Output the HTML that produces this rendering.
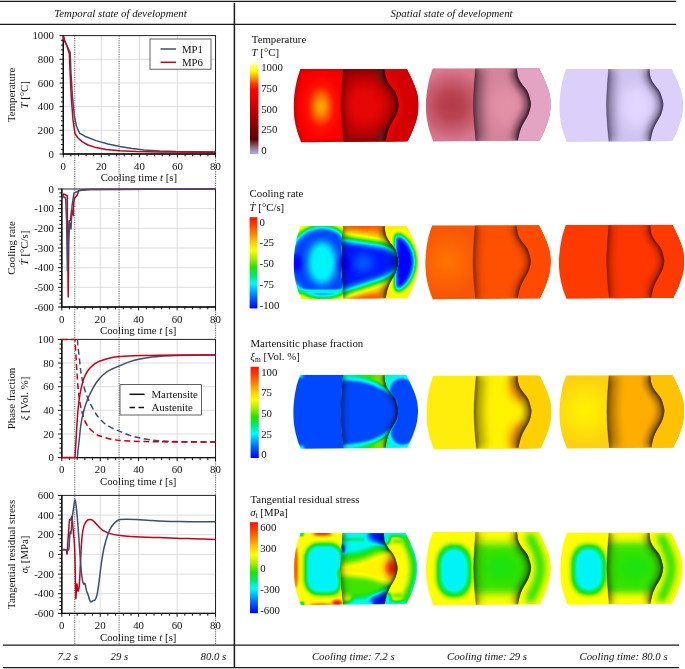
<!DOCTYPE html>
<html lang="en"><head><meta charset="utf-8"><title>Temporal and spatial state of development</title>
<style>html,body{margin:0;padding:0;background:#fff}svg{display:block}text{font-family:"Liberation Serif",serif;font-size:10.8px;fill:#111}</style>
</head><body>
<svg width="685" height="669" viewBox="0 0 685 669">
<rect width="685" height="669" fill="#fff"/>
<path d="M74.8 35.6V645M119.1 35.6V645M215.6 35.6V645" stroke="#3a3a3a" stroke-width="0.9" stroke-dasharray="1.1 1.2" fill="none"/>
<g>
<path d="M101.3 35.6V154M139.4 35.6V154M177.4 35.6V154M63.3 59.3H215.5M63.3 83H215.5M63.3 106.6H215.5M63.3 130.3H215.5" stroke="#d9d9d9" stroke-width="0.9" fill="none"/>
<rect x="63.3" y="35.6" width="152.2" height="118.4" fill="none" stroke="#222" stroke-width="1"/>
<path d="M63.3 35.3V154H216" fill="none" stroke="#111" stroke-width="1.4"/>
<path d="M59.5 35.6H63.3M60.9 40.3H63.3M60.9 45.1H63.3M60.9 49.8H63.3M60.9 54.5H63.3M59.5 59.3H63.3M60.9 64H63.3M60.9 68.8H63.3M60.9 73.5H63.3M60.9 78.2H63.3M59.5 83H63.3M60.9 87.7H63.3M60.9 92.4H63.3M60.9 97.2H63.3M60.9 101.9H63.3M59.5 106.6H63.3M60.9 111.4H63.3M60.9 116.1H63.3M60.9 120.8H63.3M60.9 125.6H63.3M59.5 130.3H63.3M60.9 135.1H63.3M60.9 139.8H63.3M60.9 144.5H63.3M60.9 149.3H63.3M59.5 154H63.3M63.3 154V157.4M70.9 154V156.4M78.5 154V156.4M86.1 154V156.4M93.7 154V156.4M101.3 154V157.4M109 154V156.4M116.6 154V156.4M124.2 154V156.4M131.8 154V156.4M139.4 154V157.4M147 154V156.4M154.6 154V156.4M162.2 154V156.4M169.8 154V156.4M177.4 154V157.4M185.1 154V156.4M192.7 154V156.4M200.3 154V156.4M207.9 154V156.4M215.5 154V157.4" stroke="#111" stroke-width="1" fill="none"/>
<g fill="none" stroke-width="1.5" stroke-linejoin="round">
<path d="M63.4 36.8L65 42L68 48L70.2 52.6L70.8 70L72.4 96L74.4 116L76.4 126L79.6 133.2L86 136.8L96 140.6L108 144L120 146.6L132 148.6L144 150L160 151L176 151.6L215.4 152" stroke="#3b4f6e"/>
<path d="M63.4 35.6L64.4 40L67 46L69.4 54L70 70L71.2 96L73 120L75 133.6L78 138L82 141.6L88 145L96 147.6L106 149.4L120 150.8L136 151.5L160 152L215.4 152.2" stroke="#c4001a"/>
</g>
<g text-anchor="end">
<text x="54" y="39.2">1000</text>
<text x="54" y="62.9">800</text>
<text x="54" y="86.6">600</text>
<text x="54" y="110.2">400</text>
<text x="54" y="133.9">200</text>
<text x="54" y="157.6">0</text>
</g>
<g text-anchor="middle">
<text x="63.3" y="169.6">0</text>
<text x="101.3" y="169.6">20</text>
<text x="139.4" y="169.6">40</text>
<text x="177.4" y="169.6">60</text>
<text x="215.5" y="169.6">80</text>
<text x="138.9" y="181.3">Cooling time <tspan font-style="italic">t</tspan> [s]</text>
</g>
<text transform="translate(15 94.8) rotate(-90)" text-anchor="middle">Temperature</text>
<text transform="translate(28 94.8) rotate(-90)" text-anchor="middle"><tspan font-style="italic">T</tspan> [°C]</text>
<rect x="150" y="39" width="61" height="30.2" fill="#fff" stroke="#3a3a3a" stroke-width="0.8"/><path d="M160.5 49H176" stroke="#3b4f6e" stroke-width="1.5"/><path d="M160.5 62.3H176" stroke="#c4001a" stroke-width="1.5"/><text x="182" y="52.6">MP1</text><text x="182" y="66">MP6</text>
</g>
<g>
<path d="M100.2 189V307M138.6 189V307M177.1 189V307M61.8 208.7H215.5M61.8 228.3H215.5M61.8 248H215.5M61.8 267.7H215.5M61.8 287.3H215.5" stroke="#d9d9d9" stroke-width="0.9" fill="none"/>
<rect x="61.8" y="189" width="153.7" height="118" fill="none" stroke="#222" stroke-width="1"/>
<path d="M61.8 188.7V307H216" fill="none" stroke="#111" stroke-width="1.4"/>
<path d="M58 189H61.8M59.4 192.9H61.8M59.4 196.9H61.8M59.4 200.8H61.8M59.4 204.7H61.8M58 208.7H61.8M59.4 212.6H61.8M59.4 216.5H61.8M59.4 220.5H61.8M59.4 224.4H61.8M58 228.3H61.8M59.4 232.3H61.8M59.4 236.2H61.8M59.4 240.1H61.8M59.4 244.1H61.8M58 248H61.8M59.4 251.9H61.8M59.4 255.9H61.8M59.4 259.8H61.8M59.4 263.7H61.8M58 267.7H61.8M59.4 271.6H61.8M59.4 275.5H61.8M59.4 279.5H61.8M59.4 283.4H61.8M58 287.3H61.8M59.4 291.3H61.8M59.4 295.2H61.8M59.4 299.1H61.8M59.4 303.1H61.8M58 307H61.8M61.8 307V310.4M69.5 307V309.4M77.2 307V309.4M84.9 307V309.4M92.5 307V309.4M100.2 307V310.4M107.9 307V309.4M115.6 307V309.4M123.3 307V309.4M131 307V309.4M138.6 307V310.4M146.3 307V309.4M154 307V309.4M161.7 307V309.4M169.4 307V309.4M177.1 307V310.4M184.8 307V309.4M192.4 307V309.4M200.1 307V309.4M207.8 307V309.4M215.5 307V310.4" stroke="#111" stroke-width="1" fill="none"/>
<g fill="none" stroke-width="1.5" stroke-linejoin="round">
<path d="M61.6 199L63.6 194L67.2 195.6L67.6 240L68.2 297L68.8 240L69.2 221L70.4 220L71.6 210L73.2 215.6L73.6 204L74.4 198.4L77.2 195L78.8 190.4L86 189.4L215.4 189.1" stroke="#c4001a"/>
<path d="M61.6 200L63.2 196L65.6 198.4L66.6 220L67.4 270.4L68.4 240L69.6 223L71 229L72 206L74 193L80 190.4L90 189.4L215.4 189.1" stroke="#3b4f6e"/>
</g>
<g text-anchor="end">
<text x="54" y="192.6">0</text>
<text x="54" y="212.3">-100</text>
<text x="54" y="231.9">-200</text>
<text x="54" y="251.6">-300</text>
<text x="54" y="271.3">-400</text>
<text x="54" y="290.9">-500</text>
<text x="54" y="310.6">-600</text>
</g>
<g text-anchor="middle">
<text x="61.8" y="322.6">0</text>
<text x="100.2" y="322.6">20</text>
<text x="138.6" y="322.6">40</text>
<text x="177.1" y="322.6">60</text>
<text x="215.5" y="322.6">80</text>
<text x="138.2" y="334.3">Cooling time <tspan font-style="italic">t</tspan> [s]</text>
</g>
<text transform="translate(15 248) rotate(-90)" text-anchor="middle">Cooling rate</text>
<text transform="translate(28 248) rotate(-90)" text-anchor="middle"><tspan font-style="italic">Ṫ</tspan> [°C/s]</text>

</g>
<g>
<path d="M100.2 339.4V457.6M138.6 339.4V457.6M177.1 339.4V457.6M61.8 363H215.5M61.8 386.7H215.5M61.8 410.3H215.5M61.8 434H215.5" stroke="#d9d9d9" stroke-width="0.9" fill="none"/>
<rect x="61.8" y="339.4" width="153.7" height="118.2" fill="none" stroke="#222" stroke-width="1"/>
<path d="M61.8 339.1V457.6H216" fill="none" stroke="#111" stroke-width="1.4"/>
<path d="M58 339.4H61.8M59.4 344.1H61.8M59.4 348.9H61.8M59.4 353.6H61.8M59.4 358.3H61.8M58 363H61.8M59.4 367.8H61.8M59.4 372.5H61.8M59.4 377.2H61.8M59.4 382H61.8M58 386.7H61.8M59.4 391.4H61.8M59.4 396.1H61.8M59.4 400.9H61.8M59.4 405.6H61.8M58 410.3H61.8M59.4 415H61.8M59.4 419.8H61.8M59.4 424.5H61.8M59.4 429.2H61.8M58 434H61.8M59.4 438.7H61.8M59.4 443.4H61.8M59.4 448.1H61.8M59.4 452.9H61.8M58 457.6H61.8M61.8 457.6V461M69.5 457.6V460M77.2 457.6V460M84.9 457.6V460M92.5 457.6V460M100.2 457.6V461M107.9 457.6V460M115.6 457.6V460M123.3 457.6V460M131 457.6V460M138.6 457.6V461M146.3 457.6V460M154 457.6V460M161.7 457.6V460M169.4 457.6V460M177.1 457.6V461M184.8 457.6V460M192.4 457.6V460M200.1 457.6V460M207.8 457.6V460M215.5 457.6V461" stroke="#111" stroke-width="1" fill="none"/>
<g fill="none" stroke-width="1.5" stroke-linejoin="round">
<path d="M77.4 339.4C77.5 340.7 77.7 344.4 78 347C78.3 349.6 78.5 350.7 79 355C79.5 359.3 80.2 367.7 81 373C81.8 378.3 83 383.2 84 387C85 390.8 86 393.3 87 396C88 398.7 88.5 400 90 403C91.5 406 93.7 410.7 96 414C98.3 417.3 101.3 420.7 104 423C106.7 425.3 109.3 426.6 112 428C114.7 429.4 117 430.2 120 431.4C123 432.6 126.7 434.3 130 435.4C133.3 436.5 136.3 437.2 140 438C143.7 438.8 148 439.5 152 440C156 440.5 160 440.7 164 441C168 441.3 171.3 441.5 176 441.6C180.7 441.7 185.4 441.8 192 441.8C198.6 441.9 211.5 441.9 215.4 441.9" stroke="#3b4f6e" stroke-dasharray="6 3.5"/>
<path d="M61.6 339.5L74.9 339.4C75 340.7 75.2 343.1 75.4 347C75.7 350.9 76 356.3 76.4 363C76.8 369.7 77.4 380.3 78 387C78.6 393.7 79.3 398.8 80 403C80.7 407.2 81.3 409.3 82 412C82.7 414.7 83.2 416.8 84 419C84.8 421.2 86 423.3 87 425C88 426.7 88.7 427.6 90 429C91.3 430.4 93.3 432.2 95 433.4C96.7 434.6 97.5 435.1 100 436C102.5 436.9 106.7 438.3 110 439C113.3 439.7 115 440 120 440.4C125 440.8 133.3 441.2 140 441.4C146.7 441.6 151.3 441.7 160 441.8C168.7 441.9 182.8 442 192 442C201.2 442 211.5 442 215.4 442" stroke="#c4001a" stroke-dasharray="6 3.5"/>
<path d="M77.4 457.6C77.5 456.3 77.7 452.6 78 450C78.3 447.4 78.5 446.3 79 442C79.5 437.7 80.2 429.3 81 424C81.8 418.7 83 413.8 84 410C85 406.2 86 403.7 87 401C88 398.3 88.5 397 90 394C91.5 391 93.7 386.3 96 383C98.3 379.7 101.3 376.3 104 374C106.7 371.7 109.3 370.4 112 369C114.7 367.6 117 366.8 120 365.6C123 364.4 126.7 362.7 130 361.6C133.3 360.5 136.3 359.8 140 359C143.7 358.2 148 357.5 152 357C156 356.5 160 356.3 164 356C168 355.7 171.3 355.5 176 355.4C180.7 355.3 185.4 355.2 192 355.2C198.6 355.1 211.5 355.1 215.4 355.1" stroke="#3b4f6e"/>
<path d="M61.6 457.6L74.9 457.6C75 456.3 75.2 453.9 75.4 450C75.7 446.1 76 440.7 76.4 434C76.8 427.3 77.4 416.7 78 410C78.6 403.3 79.3 398.2 80 394C80.7 389.8 81.3 387.7 82 385C82.7 382.3 83.2 380.2 84 378C84.8 375.8 86 373.7 87 372C88 370.3 88.7 369.4 90 368C91.3 366.6 93.3 364.8 95 363.6C96.7 362.4 97.5 361.9 100 361C102.5 360.1 106.7 358.7 110 358C113.3 357.3 115 357 120 356.6C125 356.2 133.3 355.8 140 355.6C146.7 355.4 151.3 355.3 160 355.2C168.7 355.1 182.8 355 192 355C201.2 355 211.5 355 215.4 355" stroke="#c4001a"/>
</g>
<g text-anchor="end">
<text x="54" y="343">100</text>
<text x="54" y="366.6">80</text>
<text x="54" y="390.3">60</text>
<text x="54" y="413.9">40</text>
<text x="54" y="437.6">20</text>
<text x="54" y="461.2">0</text>
</g>
<g text-anchor="middle">
<text x="61.8" y="473.2">0</text>
<text x="100.2" y="473.2">20</text>
<text x="138.6" y="473.2">40</text>
<text x="177.1" y="473.2">60</text>
<text x="215.5" y="473.2">80</text>
<text x="138.2" y="484.9">Cooling time <tspan font-style="italic">t</tspan> [s]</text>
</g>
<text transform="translate(15 398.5) rotate(-90)" text-anchor="middle">Phase fraction</text>
<text transform="translate(28 398.5) rotate(-90)" text-anchor="middle"><tspan font-style="italic">ξ</tspan> [Vol. %]</text>
<rect x="120" y="384.6" width="81.5" height="30.4" fill="#fff" stroke="#3a3a3a" stroke-width="0.8"/><path d="M129.5 394.3H144.5" stroke="#111" stroke-width="1.5"/><path d="M129.5 407.6H144.5" stroke="#111" stroke-width="1.5" stroke-dasharray="5.5 3.5"/><text x="151.5" y="398">Martensite</text><text x="151.5" y="411.3">Austenite</text>
</g>
<g>
<path d="M100.2 495.4V613.4M138.6 495.4V613.4M177.1 495.4V613.4M61.8 515.1H215.5M61.8 534.7H215.5M61.8 554.4H215.5M61.8 574.1H215.5M61.8 593.7H215.5" stroke="#d9d9d9" stroke-width="0.9" fill="none"/>
<rect x="61.8" y="495.4" width="153.7" height="118" fill="none" stroke="#222" stroke-width="1"/>
<path d="M61.8 495.1V613.4H216" fill="none" stroke="#111" stroke-width="1.4"/>
<path d="M58 495.4H61.8M59.4 499.3H61.8M59.4 503.3H61.8M59.4 507.2H61.8M59.4 511.1H61.8M58 515.1H61.8M59.4 519H61.8M59.4 522.9H61.8M59.4 526.9H61.8M59.4 530.8H61.8M58 534.7H61.8M59.4 538.7H61.8M59.4 542.6H61.8M59.4 546.5H61.8M59.4 550.5H61.8M58 554.4H61.8M59.4 558.3H61.8M59.4 562.3H61.8M59.4 566.2H61.8M59.4 570.1H61.8M58 574.1H61.8M59.4 578H61.8M59.4 581.9H61.8M59.4 585.9H61.8M59.4 589.8H61.8M58 593.7H61.8M59.4 597.7H61.8M59.4 601.6H61.8M59.4 605.5H61.8M59.4 609.5H61.8M58 613.4H61.8M61.8 613.4V616.8M69.5 613.4V615.8M77.2 613.4V615.8M84.9 613.4V615.8M92.5 613.4V615.8M100.2 613.4V616.8M107.9 613.4V615.8M115.6 613.4V615.8M123.3 613.4V615.8M131 613.4V615.8M138.6 613.4V616.8M146.3 613.4V615.8M154 613.4V615.8M161.7 613.4V615.8M169.4 613.4V615.8M177.1 613.4V616.8M184.8 613.4V615.8M192.4 613.4V615.8M200.1 613.4V615.8M207.8 613.4V615.8M215.5 613.4V616.8" stroke="#111" stroke-width="1" fill="none"/>
<g fill="none" stroke-width="1.5" stroke-linejoin="round">
<path d="M61.6 549.6C62.2 549.6 64.2 549.3 65 549.4C65.8 549.5 66 549.7 66.4 550.4C66.8 551.1 66.9 555.3 67.2 553.6C67.5 551.9 67.6 545.4 68 540C68.4 534.6 69 524.3 69.4 521C69.8 517.7 70.2 520.7 70.6 520C71 519.3 71.6 515.3 72 516.6C72.4 517.9 72.6 523.4 73 528C73.4 532.6 74 537 74.4 544C74.8 551 75 560.9 75.2 570C75.4 579.1 75.5 596.1 75.8 598.4C76.1 600.7 76.4 585.1 76.8 584C77.2 582.9 77.6 591.6 78 591.6C78.4 591.6 79 589.3 79.4 584C79.8 578.7 80.2 567.8 80.6 560C81 552.2 81.4 542.7 82 537C82.6 531.3 83.2 528.3 84 525.6C84.8 522.9 86 521.6 87 520.6C88 519.6 89 519.6 90 519.6C91 519.6 92 519.9 93 520.6C94 521.3 94.8 522.4 96 523.6C97.2 524.8 98.7 526.8 100 528C101.3 529.2 102.3 530.1 104 531C105.7 531.9 107.3 532.8 110 533.6C112.7 534.4 116.7 535.1 120 535.6C123.3 536.1 126.7 536.4 130 536.6C133.3 536.8 135 536.8 140 537C145 537.2 153.3 537.4 160 537.6C166.7 537.8 173.3 538.2 180 538.4C186.7 538.6 194.1 538.8 200 539C205.9 539.2 212.8 539.3 215.4 539.4" stroke="#c4001a"/>
<path d="M61.6 550C62.3 550 64.9 549.7 66 549.8C67.1 549.9 67.5 550.7 68 550.4C68.5 550.1 68.7 551 69 548C69.3 545 69.7 534.9 70 532.4C70.3 529.9 70.7 535.3 71 533.2C71.3 531.1 71.6 524.2 72 520C72.4 515.8 73.1 511.4 73.6 508C74.1 504.6 74.5 499.4 75 499.4C75.5 499.4 75.9 503.6 76.4 508C76.9 512.4 77.5 519.7 78 526C78.5 532.3 78.9 539 79.4 546C79.9 553 80.5 562.3 81 568C81.5 573.7 82 577.3 82.4 580C82.8 582.7 83.2 583.4 83.6 584C84 584.6 84.5 582.5 85 583.6C85.5 584.7 85.9 588.6 86.4 590.4C86.9 592.2 87.5 592.8 88 594.4C88.5 596 89.1 598.7 89.6 600C90.1 601.3 90.4 601.9 91 602C91.6 602.1 92.3 600.9 93 600.6C93.7 600.3 94.3 600.9 95 600C95.7 599.1 96.3 598 97 595C97.7 592 98.3 586.8 99 582C99.7 577.2 100.2 571.7 101 566C101.8 560.3 102.8 553.3 104 548C105.2 542.7 106.7 537.7 108 534C109.3 530.3 110.7 528.1 112 526C113.3 523.9 114.7 522.7 116 521.6C117.3 520.5 118.3 520 120 519.6C121.7 519.2 123.3 519.2 126 519.2C128.7 519.2 132 519.2 136 519.4C140 519.6 145.3 520.1 150 520.4C154.7 520.7 159 521 164 521.2C169 521.4 174 521.5 180 521.6C186 521.7 194.1 521.8 200 521.8C205.9 521.8 212.8 521.8 215.4 521.8" stroke="#3b4f6e"/>
</g>
<g text-anchor="end">
<text x="54" y="499">600</text>
<text x="54" y="518.7">400</text>
<text x="54" y="538.3">200</text>
<text x="54" y="558">0</text>
<text x="54" y="577.7">-200</text>
<text x="54" y="597.3">-400</text>
<text x="54" y="617">-600</text>
</g>
<g text-anchor="middle">
<text x="61.8" y="629">0</text>
<text x="100.2" y="629">20</text>
<text x="138.6" y="629">40</text>
<text x="177.1" y="629">60</text>
<text x="215.5" y="629">80</text>
<text x="138.2" y="640.7">Cooling time <tspan font-style="italic">t</tspan> [s]</text>
</g>
<text transform="translate(15 554.4) rotate(-90)" text-anchor="middle">Tangential residual stress</text>
<text transform="translate(28 554.4) rotate(-90)" text-anchor="middle"><tspan font-style="italic">σ</tspan><tspan font-size="7.5" dy="2">t</tspan><tspan dy="-2"> [MPa]</tspan></text>

</g>
<g stroke="#1a1a1a" stroke-width="1.2" fill="none">
<path d="M0 1.4H676"/><path d="M0 24.3H676"/>
<path d="M3 645.2H679"/><path d="M3 667.6H679"/>
<path d="M234.4 3V668" stroke-width="1.5"/>
</g>
<g font-style="italic">
<text x="54.3" y="17.2">Temporal state of development</text>
<text x="390.5" y="17.2">Spatial state of development</text>
<text x="57.5" y="660.3">7.2 s</text>
<text x="110.5" y="660.3">29 s</text>
<text x="200.5" y="660.3">80.0 s</text>
<text x="311.9" y="660.3">Cooling time: 7.2 s</text>
<text x="447" y="660.3">Cooling time: 29 s</text>
<text x="579.5" y="660.3">Cooling time: 80.0 s</text>
</g>
<defs>
<filter id="jet" filterUnits="userSpaceOnUse" x="-10" y="-10" width="150" height="95" color-interpolation-filters="sRGB"><feComponentTransfer><feFuncR type="table" tableValues="0.000 0.000 0.000 0.000 0.000 0.000 0.000 0.000 0.000 0.000 0.000 0.000 0.000 0.000 0.000 0.000 0.000 0.000 0.000 0.031 0.063 0.094 0.125 0.194 0.299 0.404 0.509 0.614 0.704 0.778 0.852 0.926 1.000 1.000 1.000 1.000 1.000 1.000 1.000 1.000 1.000 1.000 1.000 1.000 1.000 1.000 1.000 1.000 1.000 1.000 1.000"/><feFuncG type="table" tableValues="0.000 0.066 0.133 0.199 0.265 0.332 0.398 0.471 0.551 0.630 0.710 0.789 0.869 0.948 0.980 0.962 0.945 0.927 0.910 0.905 0.899 0.894 0.889 0.892 0.903 0.914 0.925 0.936 0.948 0.961 0.974 0.987 1.000 0.952 0.904 0.856 0.808 0.754 0.693 0.632 0.571 0.510 0.455 0.400 0.345 0.290 0.235 0.192 0.149 0.106 0.063"/><feFuncB type="table" tableValues="1.000 1.000 1.000 1.000 1.000 1.000 1.000 0.999 0.997 0.996 0.994 0.992 0.991 0.989 0.931 0.816 0.701 0.586 0.471 0.366 0.261 0.157 0.052 0.000 0.000 0.000 0.000 0.000 0.000 0.000 0.000 0.000 0.000 0.000 0.000 0.000 0.000 0.000 0.000 0.000 0.000 0.000 0.000 0.000 0.000 0.000 0.000 0.000 0.000 0.000 0.000"/></feComponentTransfer></filter>
<filter id="b0_8" filterUnits="userSpaceOnUse" x="-40" y="-40" width="210" height="155" color-interpolation-filters="sRGB"><feGaussianBlur stdDeviation="0.8"/></filter>
<filter id="b1_2" filterUnits="userSpaceOnUse" x="-40" y="-40" width="210" height="155" color-interpolation-filters="sRGB"><feGaussianBlur stdDeviation="1.2"/></filter>
<filter id="b1_5" filterUnits="userSpaceOnUse" x="-40" y="-40" width="210" height="155" color-interpolation-filters="sRGB"><feGaussianBlur stdDeviation="1.5"/></filter>
<filter id="b2" filterUnits="userSpaceOnUse" x="-40" y="-40" width="210" height="155" color-interpolation-filters="sRGB"><feGaussianBlur stdDeviation="2"/></filter>
<filter id="b2_5" filterUnits="userSpaceOnUse" x="-40" y="-40" width="210" height="155" color-interpolation-filters="sRGB"><feGaussianBlur stdDeviation="2.5"/></filter>
<filter id="b3" filterUnits="userSpaceOnUse" x="-40" y="-40" width="210" height="155" color-interpolation-filters="sRGB"><feGaussianBlur stdDeviation="3"/></filter>
<filter id="b3_5" filterUnits="userSpaceOnUse" x="-40" y="-40" width="210" height="155" color-interpolation-filters="sRGB"><feGaussianBlur stdDeviation="3.5"/></filter>
<filter id="b4" filterUnits="userSpaceOnUse" x="-40" y="-40" width="210" height="155" color-interpolation-filters="sRGB"><feGaussianBlur stdDeviation="4"/></filter>
<filter id="b5" filterUnits="userSpaceOnUse" x="-40" y="-40" width="210" height="155" color-interpolation-filters="sRGB"><feGaussianBlur stdDeviation="5"/></filter>
<filter id="b6" filterUnits="userSpaceOnUse" x="-40" y="-40" width="210" height="155" color-interpolation-filters="sRGB"><feGaussianBlur stdDeviation="6"/></filter>
<clipPath id="cO"><path d="M6.9 0L113.2 0C114 1.8 116.7 6.8 118.3 10.6C119.9 14.4 121.9 18.8 123 22.8C124.1 26.8 124.7 30.5 124.8 34.8C124.9 39 124.4 43.8 123.4 48.3C122.4 52.8 120.6 57.5 119 61.5C117.4 65.5 114.8 70.4 114 72.2L7.6 73.2C6.9 71.4 4.8 66.3 3.7 62.5C2.6 58.7 1.6 54.8 1 50.5C0.4 46.2 0 41.2 0 37C-0 32.8 0.4 29.5 0.9 25.3C1.4 21.1 2.2 16.1 3.2 11.9C4.2 7.7 6.3 2 6.9 0Z"/></clipPath>
<clipPath id="cR1"><path d="M49.8 0C49.6 3 48.8 11.9 48.4 18C48 24.1 47.6 30.1 47.6 36.3C47.6 42.5 48.1 48.9 48.5 55C48.9 61.1 49.9 69.8 50.2 72.8L140 80L140 -8Z"/></clipPath>
<clipPath id="cR2"><path d="M91.1 0C91.3 1.3 91.4 5.6 92.1 8C92.8 10.4 93.8 12.2 95.4 14.7C97 17.2 100 19.9 101.5 22.8C103 25.7 104 29.7 104.6 32.2C105.2 34.7 105.2 35.4 104.9 37.6C104.6 39.8 104 42.7 102.8 45.6C101.6 48.5 99 52.2 97.5 55.1C96 58 95 60.2 94.1 63.1C93.2 66 92.4 70.9 92.1 72.4L140 80L140 -8Z"/></clipPath>
<clipPath id="cM"><path d="M49.8 0C49.6 3 48.8 11.9 48.4 18C48 24.1 47.6 30.1 47.6 36.3C47.6 42.5 48.1 48.9 48.5 55C48.9 61.1 49.9 69.8 50.2 72.8L92.1 72.4C92.4 70.9 93.2 66 94.1 63.1C95 60.2 96 58 97.5 55.1C99 52.2 101.6 48.5 102.8 45.6C104 42.7 104.6 39.8 104.9 37.6C105.2 35.4 105.2 34.7 104.6 32.2C104 29.7 103 25.7 101.5 22.8C100 19.9 97 17.2 95.4 14.7C93.8 12.2 92.8 10.4 92.1 8C91.4 5.6 91.3 1.3 91.1 0Z"/></clipPath>
<linearGradient id="gJ" x1="0" y1="0" x2="0" y2="1">
<stop offset="0.000" stop-color="rgb(255,16,0)"/>
<stop offset="0.080" stop-color="rgb(255,60,0)"/>
<stop offset="0.180" stop-color="rgb(255,130,0)"/>
<stop offset="0.270" stop-color="rgb(255,200,0)"/>
<stop offset="0.360" stop-color="rgb(255,255,0)"/>
<stop offset="0.450" stop-color="rgb(170,240,0)"/>
<stop offset="0.550" stop-color="rgb(36,226,0)"/>
<stop offset="0.640" stop-color="rgb(0,232,120)"/>
<stop offset="0.730" stop-color="rgb(0,252,252)"/>
<stop offset="0.870" stop-color="rgb(0,110,255)"/>
<stop offset="1.000" stop-color="rgb(0,0,255)"/>
</linearGradient>
<linearGradient id="gT" x1="0" y1="0" x2="0" y2="1"><stop offset="0" stop-color="#fffff4"/><stop offset="0.05" stop-color="#ffff70"/><stop offset="0.1" stop-color="#ffff00"/><stop offset="0.17" stop-color="#ffa000"/><stop offset="0.25" stop-color="#ff3000"/><stop offset="0.31" stop-color="#ff0000"/><stop offset="0.45" stop-color="#d80000"/><stop offset="0.6" stop-color="#a80000"/><stop offset="0.75" stop-color="#780000"/><stop offset="0.84" stop-color="#600000"/><stop offset="0.89" stop-color="#7a4048"/><stop offset="0.95" stop-color="#a088a0"/><stop offset="1" stop-color="#a0b4f4"/></linearGradient>
</defs>
<text x="251.8" y="42.5">Temperature</text>
<text x="251.6" y="56"><tspan font-style="italic">T</tspan> [°C]</text>
<text x="249.6" y="196.8">Cooling rate</text>
<text x="249.6" y="210.8"><tspan font-style="italic">Ṫ</tspan> [°C/s]</text>
<text x="250.5" y="347">Martensitic phase fraction</text>
<text x="250.3" y="360.4"><tspan font-style="italic">ξ</tspan><tspan font-size="7.5" dy="2">m</tspan><tspan dy="-2"> [Vol. %]</tspan></text>
<text x="250.5" y="502.5">Tangential residual stress</text>
<text x="250.2" y="516.3"><tspan font-style="italic">σ</tspan><tspan font-size="7.5" dy="2">t</tspan><tspan dy="-2"> [MPa]</tspan></text>
<rect x="250" y="61.6" width="8.5" height="92.6" fill="url(#gT)"/>
<text x="261.2" y="70.5">1000</text>
<text x="261.2" y="91.5">750</text>
<text x="261.2" y="112.5">500</text>
<text x="261.2" y="133.4">250</text>
<text x="261.2" y="154.4">0</text>
<rect x="249.6" y="217.2" width="7.8" height="91.2" fill="url(#gJ)"/>
<text x="259.6" y="225.5">0</text>
<text x="259.6" y="246.4">-25</text>
<text x="259.6" y="267.3">-50</text>
<text x="259.6" y="288.2">-75</text>
<text x="259.6" y="309.1">-100</text>
<rect x="250.6" y="366.8" width="8.2" height="91.2" fill="url(#gJ)"/>
<text x="261.2" y="375.6">100</text>
<text x="261.2" y="396.2">75</text>
<text x="261.2" y="416.9">50</text>
<text x="261.2" y="437.6">25</text>
<text x="261.2" y="458.2">0</text>
<rect x="250" y="522.2" width="7.9" height="91" fill="url(#gJ)"/>
<text x="260.2" y="530.9">600</text>
<text x="260.2" y="551.7">300</text>
<text x="260.2" y="572.4">0</text>
<text x="260.2" y="593.2">-300</text>
<text x="260.2" y="614">-600</text>
<g transform="translate(293.6 69) scale(1.0 1.0)"><g clip-path="url(#cO)">
<radialGradient id="t1a" gradientUnits="userSpaceOnUse" cx="27.4" cy="37.5" r="34" gradientTransform="translate(27.4 37.5) scale(1 1.55) translate(-27.4 -37.5)"><stop offset="0" stop-color="#ffa800"/><stop offset="0.12" stop-color="#ff9400"/><stop offset="0.27" stop-color="#ff4c00"/><stop offset="0.4" stop-color="#ff1200"/><stop offset="0.6" stop-color="#fd0000"/><stop offset="0.85" stop-color="#f00000"/><stop offset="1" stop-color="#e00000"/></radialGradient>
<rect x="-5" y="-5" width="140" height="85" fill="url(#t1a)"/>
<path d="M6.9 0C6.3 2 4.2 7.7 3.2 11.9C2.2 16.1 1.4 21.1 0.9 25.3C0.4 29.5 -0 32.8 0 37C0 41.2 0.4 46.2 1 50.5C1.6 54.8 2.6 58.7 3.7 62.5C4.8 66.3 6.9 71.4 7.6 73.2" fill="none" stroke="#b00000" stroke-opacity=".6" stroke-width="4" filter="url(#b2)"/>
<path d="M0 0H52M0 73H52" fill="none" stroke="#b00000" stroke-opacity=".5" stroke-width="3" filter="url(#b1_5)"/>
<g clip-path="url(#cR1)">
<rect x="-5" y="-5" width="140" height="85" fill="#b80000"/>
<ellipse cx="71" cy="36.5" rx="21" ry="22" fill="#e60606" filter="url(#b6)"/>
<rect x="45" y="-4" width="60" height="8" fill="#500000" fill-opacity=".5" filter="url(#b3)"/>
<rect x="45" y="69" width="60" height="8" fill="#500000" fill-opacity=".5" filter="url(#b3)"/>
<ellipse cx="91" cy="5" rx="7" ry="9" fill="#503030" fill-opacity=".65" filter="url(#b3)"/>
<ellipse cx="91" cy="68" rx="7" ry="9" fill="#503030" fill-opacity=".65" filter="url(#b3)"/>
</g>
<g clip-path="url(#cR2)">
<rect x="-5" y="-5" width="140" height="85" fill="#d20000"/>
<path d="M91.1 0C91.3 1.3 91.4 5.6 92.1 8C92.8 10.4 93.8 12.2 95.4 14.7C97 17.2 100 19.9 101.5 22.8C103 25.7 104 29.7 104.6 32.2C105.2 34.7 105.2 35.4 104.9 37.6C104.6 39.8 104 42.7 102.8 45.6C101.6 48.5 99 52.2 97.5 55.1C96 58 95 60.2 94.1 63.1C93.2 66 92.4 70.9 92.1 72.4" fill="none" stroke="#ea0404" stroke-width="9" filter="url(#b2)"/>
</g>
<g clip-path="url(#cM)">

<path d="M49.8 0C49.6 3 48.8 11.9 48.4 18C48 24.1 47.6 30.1 47.6 36.3C47.6 42.5 48.1 48.9 48.5 55C48.9 61.1 49.9 69.8 50.2 72.8" fill="none" stroke="#200000" stroke-opacity="0.28500000000000003" stroke-width="6" filter="url(#b4)"/>
<path d="M49.8 0C49.6 3 48.8 11.9 48.4 18C48 24.1 47.6 30.1 47.6 36.3C47.6 42.5 48.1 48.9 48.5 55C48.9 61.1 49.9 69.8 50.2 72.8" fill="none" stroke="#200000" stroke-opacity="0.26599999999999996" stroke-width="5" filter="url(#b1_5)"/>
<path d="M91.1 0C91.3 1.3 91.4 5.6 92.1 8C92.8 10.4 93.8 12.2 95.4 14.7C97 17.2 100 19.9 101.5 22.8C103 25.7 104 29.7 104.6 32.2C105.2 34.7 105.2 35.4 104.9 37.6C104.6 39.8 104 42.7 102.8 45.6C101.6 48.5 99 52.2 97.5 55.1C96 58 95 60.2 94.1 63.1C93.2 66 92.4 70.9 92.1 72.4" fill="none" stroke="#200000" stroke-opacity="0.5" stroke-width="8" filter="url(#b3)"/>
<path d="M91.1 0C91.3 1.3 91.4 5.6 92.1 8C92.8 10.4 93.8 12.2 95.4 14.7C97 17.2 100 19.9 101.5 22.8C103 25.7 104 29.7 104.6 32.2C105.2 34.7 105.2 35.4 104.9 37.6C104.6 39.8 104 42.7 102.8 45.6C101.6 48.5 99 52.2 97.5 55.1C96 58 95 60.2 94.1 63.1C93.2 66 92.4 70.9 92.1 72.4" fill="none" stroke="#200000" stroke-opacity="0.65" stroke-width="3.5" filter="url(#b1_2)"/>
</g>
<path d="M49.8 0C49.6 3 48.8 11.9 48.4 18C48 24.1 47.6 30.1 47.6 36.3C47.6 42.5 48.1 48.9 48.5 55C48.9 61.1 49.9 69.8 50.2 72.8" fill="none" stroke="#200000" stroke-opacity="0.30400000000000005" stroke-width="0.7"/>
</g></g>
<g transform="translate(425.8 68.3) scale(1.0 1.0)"><g clip-path="url(#cO)">
<radialGradient id="t2a" gradientUnits="userSpaceOnUse" cx="26" cy="37" r="36"><stop offset="0" stop-color="#b43a48"/><stop offset="0.35" stop-color="#ba4452"/><stop offset="0.7" stop-color="#ca5e72"/><stop offset="1" stop-color="#d8788e"/></radialGradient>
<rect x="-5" y="-5" width="140" height="85" fill="url(#t2a)"/>
<g clip-path="url(#cR1)">
<rect x="-5" y="-5" width="140" height="85" fill="#d4859c"/>
<ellipse cx="80" cy="38" rx="16" ry="20" fill="#e290a6" filter="url(#b6)"/>
</g>
<g clip-path="url(#cR2)"><rect x="-5" y="-5" width="140" height="85" fill="#e3a4c4"/></g>
<g clip-path="url(#cM)">

<path d="M49.8 0C49.6 3 48.8 11.9 48.4 18C48 24.1 47.6 30.1 47.6 36.3C47.6 42.5 48.1 48.9 48.5 55C48.9 61.1 49.9 69.8 50.2 72.8" fill="none" stroke="#2a1020" stroke-opacity="0.44999999999999996" stroke-width="18" filter="url(#b4)"/>
<path d="M49.8 0C49.6 3 48.8 11.9 48.4 18C48 24.1 47.6 30.1 47.6 36.3C47.6 42.5 48.1 48.9 48.5 55C48.9 61.1 49.9 69.8 50.2 72.8" fill="none" stroke="#2a1020" stroke-opacity="0.42" stroke-width="5" filter="url(#b1_5)"/>
<path d="M91.1 0C91.3 1.3 91.4 5.6 92.1 8C92.8 10.4 93.8 12.2 95.4 14.7C97 17.2 100 19.9 101.5 22.8C103 25.7 104 29.7 104.6 32.2C105.2 34.7 105.2 35.4 104.9 37.6C104.6 39.8 104 42.7 102.8 45.6C101.6 48.5 99 52.2 97.5 55.1C96 58 95 60.2 94.1 63.1C93.2 66 92.4 70.9 92.1 72.4" fill="none" stroke="#2a1020" stroke-opacity="0.62" stroke-width="12" filter="url(#b3)"/>
<path d="M91.1 0C91.3 1.3 91.4 5.6 92.1 8C92.8 10.4 93.8 12.2 95.4 14.7C97 17.2 100 19.9 101.5 22.8C103 25.7 104 29.7 104.6 32.2C105.2 34.7 105.2 35.4 104.9 37.6C104.6 39.8 104 42.7 102.8 45.6C101.6 48.5 99 52.2 97.5 55.1C96 58 95 60.2 94.1 63.1C93.2 66 92.4 70.9 92.1 72.4" fill="none" stroke="#2a1020" stroke-opacity="0.77" stroke-width="3.5" filter="url(#b1_2)"/>
</g>
<path d="M49.8 0C49.6 3 48.8 11.9 48.4 18C48 24.1 47.6 30.1 47.6 36.3C47.6 42.5 48.1 48.9 48.5 55C48.9 61.1 49.9 69.8 50.2 72.8" fill="none" stroke="#2a1020" stroke-opacity="0.48" stroke-width="0.7"/>
</g></g>
<g transform="translate(559.3 68.9) scale(0.99 1.0)"><g clip-path="url(#cO)">
<rect x="-5" y="-5" width="140" height="85" fill="#dcd0fb"/>
<g clip-path="url(#cR1)">
<rect x="-5" y="-5" width="140" height="85" fill="#cfc3f0"/>
<ellipse cx="78" cy="38" rx="16" ry="22" fill="#e2d6ff" filter="url(#b6)"/>
</g>
<g clip-path="url(#cR2)"><rect x="-5" y="-5" width="140" height="85" fill="#dcd0fb"/></g>
<g clip-path="url(#cM)">

<path d="M49.8 0C49.6 3 48.8 11.9 48.4 18C48 24.1 47.6 30.1 47.6 36.3C47.6 42.5 48.1 48.9 48.5 55C48.9 61.1 49.9 69.8 50.2 72.8" fill="none" stroke="#241838" stroke-opacity="0.36" stroke-width="16" filter="url(#b4)"/>
<path d="M49.8 0C49.6 3 48.8 11.9 48.4 18C48 24.1 47.6 30.1 47.6 36.3C47.6 42.5 48.1 48.9 48.5 55C48.9 61.1 49.9 69.8 50.2 72.8" fill="none" stroke="#241838" stroke-opacity="0.33599999999999997" stroke-width="5" filter="url(#b1_5)"/>
<path d="M91.1 0C91.3 1.3 91.4 5.6 92.1 8C92.8 10.4 93.8 12.2 95.4 14.7C97 17.2 100 19.9 101.5 22.8C103 25.7 104 29.7 104.6 32.2C105.2 34.7 105.2 35.4 104.9 37.6C104.6 39.8 104 42.7 102.8 45.6C101.6 48.5 99 52.2 97.5 55.1C96 58 95 60.2 94.1 63.1C93.2 66 92.4 70.9 92.1 72.4" fill="none" stroke="#241838" stroke-opacity="0.52" stroke-width="11" filter="url(#b3)"/>
<path d="M91.1 0C91.3 1.3 91.4 5.6 92.1 8C92.8 10.4 93.8 12.2 95.4 14.7C97 17.2 100 19.9 101.5 22.8C103 25.7 104 29.7 104.6 32.2C105.2 34.7 105.2 35.4 104.9 37.6C104.6 39.8 104 42.7 102.8 45.6C101.6 48.5 99 52.2 97.5 55.1C96 58 95 60.2 94.1 63.1C93.2 66 92.4 70.9 92.1 72.4" fill="none" stroke="#241838" stroke-opacity="0.67" stroke-width="3.5" filter="url(#b1_2)"/>
</g>
<path d="M49.8 0C49.6 3 48.8 11.9 48.4 18C48 24.1 47.6 30.1 47.6 36.3C47.6 42.5 48.1 48.9 48.5 55C48.9 61.1 49.9 69.8 50.2 72.8" fill="none" stroke="#241838" stroke-opacity="0.384" stroke-width="0.7"/>
</g></g>
<g transform="translate(293.6 226) scale(1.0 1.0)"><g clip-path="url(#cO)">
<g filter="url(#jet)">
<rect x="-5" y="-5" width="140" height="85" fill="#adadad"/>
<path d="M-5 31C-3 14 10 0.5 28 0C42 0 50 6 54 16V61C50 68 42 71.5 30 71.5C14 71.5 0 65 -5 48Z" fill="#141414" filter="url(#b3)"/>
<path d="M4 65.4H50" stroke="#5c5c5c" stroke-width="2.6" fill="none" filter="url(#b1_2)"/>
<ellipse cx="28.4" cy="36.7" rx="14.5" ry="22" fill="#454545" filter="url(#b4)"/>
<ellipse cx="28.4" cy="36.7" rx="9" ry="15" fill="#454545" filter="url(#b3)"/>
<ellipse cx="3" cy="37" rx="5" ry="9" fill="#000000" filter="url(#b2_5)"/>
<ellipse cx="49" cy="38" rx="3.5" ry="8" fill="#000000" filter="url(#b2_5)"/>
<g clip-path="url(#cR1)">
<rect x="-5" y="-5" width="140" height="85" fill="#c9c9c9"/>
<ellipse cx="70" cy="-1" rx="20" ry="5" fill="#e6e6e6" filter="url(#b3)"/><ellipse cx="72" cy="74" rx="18" ry="6" fill="#e6e6e6" filter="url(#b3)"/>
<path d="M40 7L88 14.5C100 17 114 29 114 35.5C114 42 100 53 90 57.5L40 74Z" fill="#666666" filter="url(#b4)"/>
<path d="M40 13.5L88 20.5C98 23 109 31 109 35.5C109 40 98 47.5 89 51.5L40 67.5Z" fill="#080808" filter="url(#b3)"/>
<ellipse cx="52" cy="38" rx="6" ry="7" fill="#000000" filter="url(#b3)"/>
<ellipse cx="70" cy="37" rx="10" ry="9" fill="#1c1c1c" filter="url(#b4)"/>
</g>
<g clip-path="url(#cR2)">
<rect x="-5" y="-5" width="140" height="85" fill="#a8a8a8"/>
<path d="M102 6.5C113 6.5 122.6 22 122.6 35.5C122.6 50 113 66.5 102 66.5Z" fill="#5c5c5c" filter="url(#b2)"/>
<path d="M102 10C111 10 120 23 120 35.5C120 49 111 63 102 63Z" fill="#000000" filter="url(#b2)"/>
</g>
</g>
<g clip-path="url(#cM)">

<path d="M49.8 0C49.6 3 48.8 11.9 48.4 18C48 24.1 47.6 30.1 47.6 36.3C47.6 42.5 48.1 48.9 48.5 55C48.9 61.1 49.9 69.8 50.2 72.8" fill="none" stroke="#000" stroke-opacity="0.30000000000000004" stroke-width="7" filter="url(#b4)"/>
<path d="M49.8 0C49.6 3 48.8 11.9 48.4 18C48 24.1 47.6 30.1 47.6 36.3C47.6 42.5 48.1 48.9 48.5 55C48.9 61.1 49.9 69.8 50.2 72.8" fill="none" stroke="#000" stroke-opacity="0.27999999999999997" stroke-width="5" filter="url(#b1_5)"/>
<path d="M91.1 0C91.3 1.3 91.4 5.6 92.1 8C92.8 10.4 93.8 12.2 95.4 14.7C97 17.2 100 19.9 101.5 22.8C103 25.7 104 29.7 104.6 32.2C105.2 34.7 105.2 35.4 104.9 37.6C104.6 39.8 104 42.7 102.8 45.6C101.6 48.5 99 52.2 97.5 55.1C96 58 95 60.2 94.1 63.1C93.2 66 92.4 70.9 92.1 72.4" fill="none" stroke="#000" stroke-opacity="0.45" stroke-width="10" filter="url(#b3)"/>
<path d="M91.1 0C91.3 1.3 91.4 5.6 92.1 8C92.8 10.4 93.8 12.2 95.4 14.7C97 17.2 100 19.9 101.5 22.8C103 25.7 104 29.7 104.6 32.2C105.2 34.7 105.2 35.4 104.9 37.6C104.6 39.8 104 42.7 102.8 45.6C101.6 48.5 99 52.2 97.5 55.1C96 58 95 60.2 94.1 63.1C93.2 66 92.4 70.9 92.1 72.4" fill="none" stroke="#000" stroke-opacity="0.6" stroke-width="3.5" filter="url(#b1_2)"/>
</g>
<path d="M49.8 0C49.6 3 48.8 11.9 48.4 18C48 24.1 47.6 30.1 47.6 36.3C47.6 42.5 48.1 48.9 48.5 55C48.9 61.1 49.9 69.8 50.2 72.8" fill="none" stroke="#000" stroke-opacity="0.32000000000000006" stroke-width="0.7"/>
</g></g>
<g transform="translate(425.2 225.3) scale(1.005 1.01)"><g clip-path="url(#cO)">
<radialGradient id="c2a" gradientUnits="userSpaceOnUse" cx="22" cy="36" r="34"><stop offset="0" stop-color="#ff7400"/><stop offset="0.5" stop-color="#fd6404"/><stop offset="1" stop-color="#f85606"/></radialGradient>
<rect x="-5" y="-5" width="140" height="85" fill="url(#c2a)"/>
<g clip-path="url(#cR1)"><rect x="-5" y="-5" width="140" height="85" fill="#ff5000"/></g>
<g clip-path="url(#cR2)"><rect x="-5" y="-5" width="140" height="85" fill="#ff4a00"/></g>
<g clip-path="url(#cM)">

<path d="M49.8 0C49.6 3 48.8 11.9 48.4 18C48 24.1 47.6 30.1 47.6 36.3C47.6 42.5 48.1 48.9 48.5 55C48.9 61.1 49.9 69.8 50.2 72.8" fill="none" stroke="#300800" stroke-opacity="0.315" stroke-width="10" filter="url(#b4)"/>
<path d="M49.8 0C49.6 3 48.8 11.9 48.4 18C48 24.1 47.6 30.1 47.6 36.3C47.6 42.5 48.1 48.9 48.5 55C48.9 61.1 49.9 69.8 50.2 72.8" fill="none" stroke="#300800" stroke-opacity="0.294" stroke-width="5" filter="url(#b1_5)"/>
<path d="M91.1 0C91.3 1.3 91.4 5.6 92.1 8C92.8 10.4 93.8 12.2 95.4 14.7C97 17.2 100 19.9 101.5 22.8C103 25.7 104 29.7 104.6 32.2C105.2 34.7 105.2 35.4 104.9 37.6C104.6 39.8 104 42.7 102.8 45.6C101.6 48.5 99 52.2 97.5 55.1C96 58 95 60.2 94.1 63.1C93.2 66 92.4 70.9 92.1 72.4" fill="none" stroke="#300800" stroke-opacity="0.42" stroke-width="10" filter="url(#b3)"/>
<path d="M91.1 0C91.3 1.3 91.4 5.6 92.1 8C92.8 10.4 93.8 12.2 95.4 14.7C97 17.2 100 19.9 101.5 22.8C103 25.7 104 29.7 104.6 32.2C105.2 34.7 105.2 35.4 104.9 37.6C104.6 39.8 104 42.7 102.8 45.6C101.6 48.5 99 52.2 97.5 55.1C96 58 95 60.2 94.1 63.1C93.2 66 92.4 70.9 92.1 72.4" fill="none" stroke="#300800" stroke-opacity="0.57" stroke-width="3.5" filter="url(#b1_2)"/>
</g>
<path d="M49.8 0C49.6 3 48.8 11.9 48.4 18C48 24.1 47.6 30.1 47.6 36.3C47.6 42.5 48.1 48.9 48.5 55C48.9 61.1 49.9 69.8 50.2 72.8" fill="none" stroke="#300800" stroke-opacity="0.336" stroke-width="0.7"/>
</g></g>
<g transform="translate(558.9 224.8) scale(1.003 1.01)"><g clip-path="url(#cO)">
<rect x="-5" y="-5" width="140" height="85" fill="#ff3a00"/>
<g clip-path="url(#cR1)"><rect x="-5" y="-5" width="140" height="85" fill="#ff3600"/></g>
<g clip-path="url(#cR2)"><rect x="-5" y="-5" width="140" height="85" fill="#ff3a00"/></g>
<g clip-path="url(#cM)">

<path d="M49.8 0C49.6 3 48.8 11.9 48.4 18C48 24.1 47.6 30.1 47.6 36.3C47.6 42.5 48.1 48.9 48.5 55C48.9 61.1 49.9 69.8 50.2 72.8" fill="none" stroke="#300400" stroke-opacity="0.30000000000000004" stroke-width="10" filter="url(#b4)"/>
<path d="M49.8 0C49.6 3 48.8 11.9 48.4 18C48 24.1 47.6 30.1 47.6 36.3C47.6 42.5 48.1 48.9 48.5 55C48.9 61.1 49.9 69.8 50.2 72.8" fill="none" stroke="#300400" stroke-opacity="0.27999999999999997" stroke-width="5" filter="url(#b1_5)"/>
<path d="M91.1 0C91.3 1.3 91.4 5.6 92.1 8C92.8 10.4 93.8 12.2 95.4 14.7C97 17.2 100 19.9 101.5 22.8C103 25.7 104 29.7 104.6 32.2C105.2 34.7 105.2 35.4 104.9 37.6C104.6 39.8 104 42.7 102.8 45.6C101.6 48.5 99 52.2 97.5 55.1C96 58 95 60.2 94.1 63.1C93.2 66 92.4 70.9 92.1 72.4" fill="none" stroke="#300400" stroke-opacity="0.4" stroke-width="10" filter="url(#b3)"/>
<path d="M91.1 0C91.3 1.3 91.4 5.6 92.1 8C92.8 10.4 93.8 12.2 95.4 14.7C97 17.2 100 19.9 101.5 22.8C103 25.7 104 29.7 104.6 32.2C105.2 34.7 105.2 35.4 104.9 37.6C104.6 39.8 104 42.7 102.8 45.6C101.6 48.5 99 52.2 97.5 55.1C96 58 95 60.2 94.1 63.1C93.2 66 92.4 70.9 92.1 72.4" fill="none" stroke="#300400" stroke-opacity="0.55" stroke-width="3.5" filter="url(#b1_2)"/>
</g>
<path d="M49.8 0C49.6 3 48.8 11.9 48.4 18C48 24.1 47.6 30.1 47.6 36.3C47.6 42.5 48.1 48.9 48.5 55C48.9 61.1 49.9 69.8 50.2 72.8" fill="none" stroke="#300400" stroke-opacity="0.32000000000000006" stroke-width="0.7"/>
</g></g>
<g transform="translate(293.2 374.8) scale(1.0 1.01)"><g clip-path="url(#cO)">
<g filter="url(#jet)">
<rect x="-5" y="-5" width="140" height="85" fill="#161616"/>
<circle cx="7" cy="0" r="3" fill="#4c4c4c" filter="url(#b1_5)"/><circle cx="8" cy="73" r="3" fill="#4c4c4c" filter="url(#b1_5)"/>
<g clip-path="url(#cR1)">
<linearGradient id="m1g" gradientUnits="userSpaceOnUse" x1="50" y1="0" x2="92" y2="0"><stop offset="0" stop-color="#4a4a4a"/><stop offset="0.45" stop-color="#666666"/><stop offset="1" stop-color="#8f8f8f"/></linearGradient>
<rect x="-5" y="-5" width="140" height="85" fill="url(#m1g)"/>
<path d="M40 2.2C42.1 2.3 48 2.4 52.6 2.6C57.2 2.8 63 2.7 67.6 3.4C72.2 4.1 76.4 5.3 80.2 6.6C84 7.9 87.1 9.6 90.2 11.2C93.3 12.8 96 14.3 99 16.2C102 18.1 105 19.9 108 22.6C111 25.3 117 28 117 32.6C117 37.2 111.1 46.3 108 50.4C104.9 54.5 101.5 55.1 98.5 57.2C95.5 59.3 93.2 61.2 90.2 62.9C87.2 64.6 84 66.3 80.2 67.6C76.4 68.9 72.2 70 67.6 70.8C63 71.6 57.2 72.1 52.6 72.4C48 72.7 42.1 72.7 40 72.8Z" fill="#454545" filter="url(#b1_2)"/>
<path d="M40 5.6C41.8 5.7 46.3 5.8 50.6 6C54.9 6.2 61 6.1 65.6 6.8C70.2 7.5 74.4 8.7 78.2 10C82 11.3 85.1 13 88.2 14.6C91.3 16.2 93.7 17.7 97 19.6C100.3 21.5 104.7 23.3 108 26C111.3 28.7 117 32.5 117 36C117 39.5 111.4 44 108 47C104.6 50 99.8 51.7 96.5 53.8C93.2 55.9 91.2 57.8 88.2 59.5C85.2 61.2 82 62.9 78.2 64.2C74.4 65.5 70.2 66.6 65.6 67.4C61 68.2 54.9 68.7 50.6 69C46.3 69.3 41.8 69.3 40 69.4Z" fill="#161616" filter="url(#b1_2)"/>
</g>
<g clip-path="url(#cR2)">
<rect x="-5" y="-5" width="140" height="85" fill="#4a4a4a"/>
<g filter="url(#b1_2)"><path d="M108.4 15C109.3 16.4 112.7 20.2 114 23.5C115.3 26.8 116.4 31 116.4 35C116.4 39 115.4 43.7 114.2 47.5C113 51.3 110.2 56.1 109.4 57.8" fill="none" stroke="#161616" stroke-width="23" stroke-linecap="round"/><ellipse cx="107" cy="36" rx="5" ry="11" fill="#161616"/></g>
</g>
</g>
<g clip-path="url(#cM)">

<path d="M49.8 0C49.6 3 48.8 11.9 48.4 18C48 24.1 47.6 30.1 47.6 36.3C47.6 42.5 48.1 48.9 48.5 55C48.9 61.1 49.9 69.8 50.2 72.8" fill="none" stroke="#000" stroke-opacity="0.30000000000000004" stroke-width="6" filter="url(#b4)"/>
<path d="M49.8 0C49.6 3 48.8 11.9 48.4 18C48 24.1 47.6 30.1 47.6 36.3C47.6 42.5 48.1 48.9 48.5 55C48.9 61.1 49.9 69.8 50.2 72.8" fill="none" stroke="#000" stroke-opacity="0.27999999999999997" stroke-width="5" filter="url(#b1_5)"/>
<path d="M91.1 0C91.3 1.3 91.4 5.6 92.1 8C92.8 10.4 93.8 12.2 95.4 14.7C97 17.2 100 19.9 101.5 22.8C103 25.7 104 29.7 104.6 32.2C105.2 34.7 105.2 35.4 104.9 37.6C104.6 39.8 104 42.7 102.8 45.6C101.6 48.5 99 52.2 97.5 55.1C96 58 95 60.2 94.1 63.1C93.2 66 92.4 70.9 92.1 72.4" fill="none" stroke="#000" stroke-opacity="0.45" stroke-width="6" filter="url(#b3)"/>
<path d="M91.1 0C91.3 1.3 91.4 5.6 92.1 8C92.8 10.4 93.8 12.2 95.4 14.7C97 17.2 100 19.9 101.5 22.8C103 25.7 104 29.7 104.6 32.2C105.2 34.7 105.2 35.4 104.9 37.6C104.6 39.8 104 42.7 102.8 45.6C101.6 48.5 99 52.2 97.5 55.1C96 58 95 60.2 94.1 63.1C93.2 66 92.4 70.9 92.1 72.4" fill="none" stroke="#000" stroke-opacity="0.6" stroke-width="3.5" filter="url(#b1_2)"/>
</g>
<path d="M49.8 0C49.6 3 48.8 11.9 48.4 18C48 24.1 47.6 30.1 47.6 36.3C47.6 42.5 48.1 48.9 48.5 55C48.9 61.1 49.9 69.8 50.2 72.8" fill="none" stroke="#000" stroke-opacity="0.32000000000000006" stroke-width="0.7"/>
</g></g>
<g transform="translate(426.4 375.6) scale(1.0 1.005)"><g clip-path="url(#cO)">
<rect x="-5" y="-5" width="140" height="85" fill="#ffee0c"/>
<g clip-path="url(#cR1)"><rect x="-5" y="-5" width="140" height="85" fill="#fff400"/><ellipse cx="95" cy="10" rx="13" ry="17" fill="#ff9c00" filter="url(#b4)"/><ellipse cx="95" cy="63" rx="13" ry="17" fill="#ff9c00" filter="url(#b4)"/><ellipse cx="104" cy="36" rx="5" ry="12" fill="#ffc000" filter="url(#b3)"/></g>
<g clip-path="url(#cR2)"><rect x="-5" y="-5" width="140" height="85" fill="#ffd000"/></g>
<g clip-path="url(#cM)">

<path d="M49.8 0C49.6 3 48.8 11.9 48.4 18C48 24.1 47.6 30.1 47.6 36.3C47.6 42.5 48.1 48.9 48.5 55C48.9 61.1 49.9 69.8 50.2 72.8" fill="none" stroke="#302000" stroke-opacity="0.41250000000000003" stroke-width="18" filter="url(#b4)"/>
<path d="M49.8 0C49.6 3 48.8 11.9 48.4 18C48 24.1 47.6 30.1 47.6 36.3C47.6 42.5 48.1 48.9 48.5 55C48.9 61.1 49.9 69.8 50.2 72.8" fill="none" stroke="#302000" stroke-opacity="0.385" stroke-width="5" filter="url(#b1_5)"/>
<path d="M91.1 0C91.3 1.3 91.4 5.6 92.1 8C92.8 10.4 93.8 12.2 95.4 14.7C97 17.2 100 19.9 101.5 22.8C103 25.7 104 29.7 104.6 32.2C105.2 34.7 105.2 35.4 104.9 37.6C104.6 39.8 104 42.7 102.8 45.6C101.6 48.5 99 52.2 97.5 55.1C96 58 95 60.2 94.1 63.1C93.2 66 92.4 70.9 92.1 72.4" fill="none" stroke="#302000" stroke-opacity="0.55" stroke-width="12" filter="url(#b3)"/>
<path d="M91.1 0C91.3 1.3 91.4 5.6 92.1 8C92.8 10.4 93.8 12.2 95.4 14.7C97 17.2 100 19.9 101.5 22.8C103 25.7 104 29.7 104.6 32.2C105.2 34.7 105.2 35.4 104.9 37.6C104.6 39.8 104 42.7 102.8 45.6C101.6 48.5 99 52.2 97.5 55.1C96 58 95 60.2 94.1 63.1C93.2 66 92.4 70.9 92.1 72.4" fill="none" stroke="#302000" stroke-opacity="0.7000000000000001" stroke-width="3.5" filter="url(#b1_2)"/>
</g>
<path d="M49.8 0C49.6 3 48.8 11.9 48.4 18C48 24.1 47.6 30.1 47.6 36.3C47.6 42.5 48.1 48.9 48.5 55C48.9 61.1 49.9 69.8 50.2 72.8" fill="none" stroke="#302000" stroke-opacity="0.44000000000000006" stroke-width="0.7"/>
</g></g>
<g transform="translate(559.3 375.2) scale(1.0 1.0)"><g clip-path="url(#cO)">
<radialGradient id="m3a" gradientUnits="userSpaceOnUse" cx="26" cy="36" r="34"><stop offset="0" stop-color="#fff200"/><stop offset="0.5" stop-color="#ffe408"/><stop offset="1" stop-color="#ffd010"/></radialGradient>
<rect x="-5" y="-5" width="140" height="85" fill="url(#m3a)"/>
<g clip-path="url(#cR1)"><rect x="-5" y="-5" width="140" height="85" fill="#ffae00"/></g>
<g clip-path="url(#cR2)"><rect x="-5" y="-5" width="140" height="85" fill="#ffc200"/></g>
<g clip-path="url(#cM)">

<path d="M49.8 0C49.6 3 48.8 11.9 48.4 18C48 24.1 47.6 30.1 47.6 36.3C47.6 42.5 48.1 48.9 48.5 55C48.9 61.1 49.9 69.8 50.2 72.8" fill="none" stroke="#301800" stroke-opacity="0.41250000000000003" stroke-width="18" filter="url(#b4)"/>
<path d="M49.8 0C49.6 3 48.8 11.9 48.4 18C48 24.1 47.6 30.1 47.6 36.3C47.6 42.5 48.1 48.9 48.5 55C48.9 61.1 49.9 69.8 50.2 72.8" fill="none" stroke="#301800" stroke-opacity="0.385" stroke-width="5" filter="url(#b1_5)"/>
<path d="M91.1 0C91.3 1.3 91.4 5.6 92.1 8C92.8 10.4 93.8 12.2 95.4 14.7C97 17.2 100 19.9 101.5 22.8C103 25.7 104 29.7 104.6 32.2C105.2 34.7 105.2 35.4 104.9 37.6C104.6 39.8 104 42.7 102.8 45.6C101.6 48.5 99 52.2 97.5 55.1C96 58 95 60.2 94.1 63.1C93.2 66 92.4 70.9 92.1 72.4" fill="none" stroke="#301800" stroke-opacity="0.55" stroke-width="12" filter="url(#b3)"/>
<path d="M91.1 0C91.3 1.3 91.4 5.6 92.1 8C92.8 10.4 93.8 12.2 95.4 14.7C97 17.2 100 19.9 101.5 22.8C103 25.7 104 29.7 104.6 32.2C105.2 34.7 105.2 35.4 104.9 37.6C104.6 39.8 104 42.7 102.8 45.6C101.6 48.5 99 52.2 97.5 55.1C96 58 95 60.2 94.1 63.1C93.2 66 92.4 70.9 92.1 72.4" fill="none" stroke="#301800" stroke-opacity="0.7000000000000001" stroke-width="3.5" filter="url(#b1_2)"/>
</g>
<path d="M49.8 0C49.6 3 48.8 11.9 48.4 18C48 24.1 47.6 30.1 47.6 36.3C47.6 42.5 48.1 48.9 48.5 55C48.9 61.1 49.9 69.8 50.2 72.8" fill="none" stroke="#301800" stroke-opacity="0.44000000000000006" stroke-width="0.7"/>
</g></g>
<g transform="translate(293.6 533) scale(0.99 0.985)"><g clip-path="url(#cO)">
<g filter="url(#jet)">
<rect x="-5" y="-5" width="140" height="85" fill="#a4a4a4"/>
<rect x="11.5" y="11" width="38.5" height="51.5" rx="13" ry="15" fill="#444444" filter="url(#b2_5)"/>
<ellipse cx="50" cy="41" rx="4.5" ry="6" fill="#949494" filter="url(#b2)"/>
<ellipse cx="51" cy="54" rx="4" ry="10" fill="#999999" filter="url(#b2)"/>
<ellipse cx="2.4" cy="35" rx="2" ry="21" fill="#e6e6e6" filter="url(#b1_2)"/>
<ellipse cx="29" cy="0.6" rx="10" ry="2" fill="#ffffff" filter="url(#b1_5)"/>
<ellipse cx="44" cy="71" rx="5" ry="3" fill="#ffffff" filter="url(#b1_5)"/>
<ellipse cx="28" cy="73" rx="12" ry="1.8" fill="#e0e0e0" filter="url(#b1_2)"/>
<circle cx="8" cy="1" r="2.2" fill="#4c4c4c" filter="url(#b1_2)"/><circle cx="8.5" cy="72" r="2.2" fill="#4c4c4c" filter="url(#b1_2)"/>
<g clip-path="url(#cR1)">
<rect x="-5" y="-5" width="140" height="85" fill="#474747"/>
<path d="M44 23C58 22 72 20 84 13C92 9 100 8 112 10V60C100 62 92 62 84 63C72 66 58 67 44 67Z" fill="#787878" filter="url(#b2_5)"/>
<path d="M44 32.5C56 32 70 28.5 80 24C90 19.5 100 17 112 17V53.5C100 53.5 90 50.5 80 47C70 44.5 56 43.5 44 43Z" fill="#a8a8a8" filter="url(#b2_5)"/>
<ellipse cx="53" cy="66.5" rx="6" ry="3.5" fill="#a3a3a3" filter="url(#b2)"/>
<path d="M50 6.5H72" stroke="#6b6b6b" stroke-width="2" fill="none" filter="url(#b1_2)"/>
<ellipse cx="99" cy="35.5" rx="6.5" ry="8.5" fill="#fafafa" filter="url(#b3)"/>
<path d="M76 -2H92L98 16C90 12 82 8 76 6Z" fill="#050505" filter="url(#b2_5)"/>
<path d="M78 75H93L99 55C91 60 84 63 78 66Z" fill="#050505" filter="url(#b2_5)"/>
<path d="M58 71.5H80" stroke="#454545" stroke-width="2.5" fill="none" filter="url(#b1_2)"/>
<ellipse cx="50" cy="16" rx="2" ry="4.5" fill="#141414" filter="url(#b1_2)"/>
</g>
<g clip-path="url(#cR2)">
<rect x="-5" y="-5" width="140" height="85" fill="#a4a4a4"/>
<path d="M113.2 0C114 1.8 116.7 6.8 118.3 10.6C119.9 14.4 121.9 18.8 123 22.8C124.1 26.8 124.7 30.5 124.8 34.8C124.9 39 124.4 43.8 123.4 48.3C122.4 52.8 120.6 57.5 119 61.5C117.4 65.5 114.8 70.4 114 72.2" fill="none" stroke="#6e6e6e" stroke-width="14" filter="url(#b2_5)"/>
<path d="M118.3 10.6C119.1 12.6 121.9 18.8 123 22.8C124.1 26.8 124.7 30.5 124.8 34.8C124.9 39 124.4 43.8 123.4 48.3C122.4 52.8 119.7 59.3 119 61.5" fill="none" stroke="#383838" stroke-width="2" filter="url(#b1_2)"/>
<path d="M88 0H116M88 72.5H116" stroke="#4a4a4a" stroke-width="7" fill="none" filter="url(#b1_5)"/>
<ellipse cx="94" cy="5" rx="4" ry="7" fill="#4a4a4a" filter="url(#b1_5)"/><ellipse cx="95" cy="67.5" rx="4" ry="7" fill="#4a4a4a" filter="url(#b1_5)"/>
<ellipse cx="105" cy="8.5" rx="6" ry="2.5" fill="#808080" filter="url(#b1_5)"/><ellipse cx="105" cy="63.5" rx="6" ry="2.5" fill="#808080" filter="url(#b1_5)"/>
</g>
</g>
<g clip-path="url(#cM)">

<path d="M49.8 0C49.6 3 48.8 11.9 48.4 18C48 24.1 47.6 30.1 47.6 36.3C47.6 42.5 48.1 48.9 48.5 55C48.9 61.1 49.9 69.8 50.2 72.8" fill="none" stroke="#000" stroke-opacity="0.26249999999999996" stroke-width="6" filter="url(#b4)"/>
<path d="M49.8 0C49.6 3 48.8 11.9 48.4 18C48 24.1 47.6 30.1 47.6 36.3C47.6 42.5 48.1 48.9 48.5 55C48.9 61.1 49.9 69.8 50.2 72.8" fill="none" stroke="#000" stroke-opacity="0.24499999999999997" stroke-width="5" filter="url(#b1_5)"/>
<path d="M91.1 0C91.3 1.3 91.4 5.6 92.1 8C92.8 10.4 93.8 12.2 95.4 14.7C97 17.2 100 19.9 101.5 22.8C103 25.7 104 29.7 104.6 32.2C105.2 34.7 105.2 35.4 104.9 37.6C104.6 39.8 104 42.7 102.8 45.6C101.6 48.5 99 52.2 97.5 55.1C96 58 95 60.2 94.1 63.1C93.2 66 92.4 70.9 92.1 72.4" fill="none" stroke="#000" stroke-opacity="0.4" stroke-width="9" filter="url(#b3)"/>
<path d="M91.1 0C91.3 1.3 91.4 5.6 92.1 8C92.8 10.4 93.8 12.2 95.4 14.7C97 17.2 100 19.9 101.5 22.8C103 25.7 104 29.7 104.6 32.2C105.2 34.7 105.2 35.4 104.9 37.6C104.6 39.8 104 42.7 102.8 45.6C101.6 48.5 99 52.2 97.5 55.1C96 58 95 60.2 94.1 63.1C93.2 66 92.4 70.9 92.1 72.4" fill="none" stroke="#000" stroke-opacity="0.55" stroke-width="3.5" filter="url(#b1_2)"/>
</g>
<path d="M49.8 0C49.6 3 48.8 11.9 48.4 18C48 24.1 47.6 30.1 47.6 36.3C47.6 42.5 48.1 48.9 48.5 55C48.9 61.1 49.9 69.8 50.2 72.8" fill="none" stroke="#000" stroke-opacity="0.27999999999999997" stroke-width="0.7"/>
</g></g>
<g transform="translate(426 531.8) scale(1.0 1.005)"><g clip-path="url(#cO)">
<g filter="url(#jet)">
<rect x="-5" y="-5" width="140" height="85" fill="#a4a4a4"/>
<rect x="10" y="12" width="36.2" height="53.6" rx="15" ry="20" fill="#737373" filter="url(#b2)"/>
<rect x="14" y="16.4" width="28.2" height="44.8" rx="12.5" ry="17" fill="#444444" filter="url(#b2)"/>
<g clip-path="url(#cR1)">
<rect x="-5" y="-5" width="140" height="85" fill="#a4a4a4"/>
<rect x="30" y="11" width="100" height="51" fill="#777777" filter="url(#b4)"/>
<ellipse cx="76" cy="36" rx="18" ry="12" fill="#707070" filter="url(#b5)"/>
</g>
<g clip-path="url(#cR2)">
<rect x="-5" y="-5" width="140" height="85" fill="#a4a4a4"/>
<path d="M104.5 6C111.5 19 114.5 30 114.5 36S111.5 53 104.5 66" fill="none" stroke="#757575" stroke-width="10.5" stroke-linecap="round" filter="url(#b3)"/>
</g>
</g>
<g clip-path="url(#cM)">

<path d="M49.8 0C49.6 3 48.8 11.9 48.4 18C48 24.1 47.6 30.1 47.6 36.3C47.6 42.5 48.1 48.9 48.5 55C48.9 61.1 49.9 69.8 50.2 72.8" fill="none" stroke="#101000" stroke-opacity="0.3375" stroke-width="9" filter="url(#b4)"/>
<path d="M49.8 0C49.6 3 48.8 11.9 48.4 18C48 24.1 47.6 30.1 47.6 36.3C47.6 42.5 48.1 48.9 48.5 55C48.9 61.1 49.9 69.8 50.2 72.8" fill="none" stroke="#101000" stroke-opacity="0.315" stroke-width="5" filter="url(#b1_5)"/>
<path d="M91.1 0C91.3 1.3 91.4 5.6 92.1 8C92.8 10.4 93.8 12.2 95.4 14.7C97 17.2 100 19.9 101.5 22.8C103 25.7 104 29.7 104.6 32.2C105.2 34.7 105.2 35.4 104.9 37.6C104.6 39.8 104 42.7 102.8 45.6C101.6 48.5 99 52.2 97.5 55.1C96 58 95 60.2 94.1 63.1C93.2 66 92.4 70.9 92.1 72.4" fill="none" stroke="#101000" stroke-opacity="0.5" stroke-width="10" filter="url(#b3)"/>
<path d="M91.1 0C91.3 1.3 91.4 5.6 92.1 8C92.8 10.4 93.8 12.2 95.4 14.7C97 17.2 100 19.9 101.5 22.8C103 25.7 104 29.7 104.6 32.2C105.2 34.7 105.2 35.4 104.9 37.6C104.6 39.8 104 42.7 102.8 45.6C101.6 48.5 99 52.2 97.5 55.1C96 58 95 60.2 94.1 63.1C93.2 66 92.4 70.9 92.1 72.4" fill="none" stroke="#101000" stroke-opacity="0.65" stroke-width="3.5" filter="url(#b1_2)"/>
</g>
<path d="M49.8 0C49.6 3 48.8 11.9 48.4 18C48 24.1 47.6 30.1 47.6 36.3C47.6 42.5 48.1 48.9 48.5 55C48.9 61.1 49.9 69.8 50.2 72.8" fill="none" stroke="#101000" stroke-opacity="0.36000000000000004" stroke-width="0.7"/>
</g></g>
<g transform="translate(560.2 532.6) scale(0.98 0.985)"><g clip-path="url(#cO)">
<g filter="url(#jet)">
<rect x="-5" y="-5" width="140" height="85" fill="#a4a4a4"/>
<rect x="10.7" y="11.3" width="36.8" height="52.6" rx="15" ry="20" fill="#737373" filter="url(#b2)"/>
<rect x="14.7" y="15.7" width="28.8" height="43.8" rx="12.5" ry="17" fill="#444444" filter="url(#b2)"/>
<g clip-path="url(#cR1)">
<rect x="-5" y="-5" width="140" height="85" fill="#a4a4a4"/>
<rect x="30" y="9.5" width="100" height="52.5" fill="#777777" filter="url(#b4)"/>
<ellipse cx="76" cy="36" rx="18" ry="12" fill="#707070" filter="url(#b5)"/>
</g>
<g clip-path="url(#cR2)">
<rect x="-5" y="-5" width="140" height="85" fill="#a4a4a4"/>
<path d="M103.5 6C110.5 19 113.5 30 113.5 36S110.5 53 103.5 66" fill="none" stroke="#757575" stroke-width="10.5" stroke-linecap="round" filter="url(#b3)"/>
</g>
</g>
<g clip-path="url(#cM)">

<path d="M49.8 0C49.6 3 48.8 11.9 48.4 18C48 24.1 47.6 30.1 47.6 36.3C47.6 42.5 48.1 48.9 48.5 55C48.9 61.1 49.9 69.8 50.2 72.8" fill="none" stroke="#101000" stroke-opacity="0.3375" stroke-width="9" filter="url(#b4)"/>
<path d="M49.8 0C49.6 3 48.8 11.9 48.4 18C48 24.1 47.6 30.1 47.6 36.3C47.6 42.5 48.1 48.9 48.5 55C48.9 61.1 49.9 69.8 50.2 72.8" fill="none" stroke="#101000" stroke-opacity="0.315" stroke-width="5" filter="url(#b1_5)"/>
<path d="M91.1 0C91.3 1.3 91.4 5.6 92.1 8C92.8 10.4 93.8 12.2 95.4 14.7C97 17.2 100 19.9 101.5 22.8C103 25.7 104 29.7 104.6 32.2C105.2 34.7 105.2 35.4 104.9 37.6C104.6 39.8 104 42.7 102.8 45.6C101.6 48.5 99 52.2 97.5 55.1C96 58 95 60.2 94.1 63.1C93.2 66 92.4 70.9 92.1 72.4" fill="none" stroke="#101000" stroke-opacity="0.5" stroke-width="10" filter="url(#b3)"/>
<path d="M91.1 0C91.3 1.3 91.4 5.6 92.1 8C92.8 10.4 93.8 12.2 95.4 14.7C97 17.2 100 19.9 101.5 22.8C103 25.7 104 29.7 104.6 32.2C105.2 34.7 105.2 35.4 104.9 37.6C104.6 39.8 104 42.7 102.8 45.6C101.6 48.5 99 52.2 97.5 55.1C96 58 95 60.2 94.1 63.1C93.2 66 92.4 70.9 92.1 72.4" fill="none" stroke="#101000" stroke-opacity="0.65" stroke-width="3.5" filter="url(#b1_2)"/>
</g>
<path d="M49.8 0C49.6 3 48.8 11.9 48.4 18C48 24.1 47.6 30.1 47.6 36.3C47.6 42.5 48.1 48.9 48.5 55C48.9 61.1 49.9 69.8 50.2 72.8" fill="none" stroke="#101000" stroke-opacity="0.36000000000000004" stroke-width="0.7"/>
</g></g>
</svg></body></html>
